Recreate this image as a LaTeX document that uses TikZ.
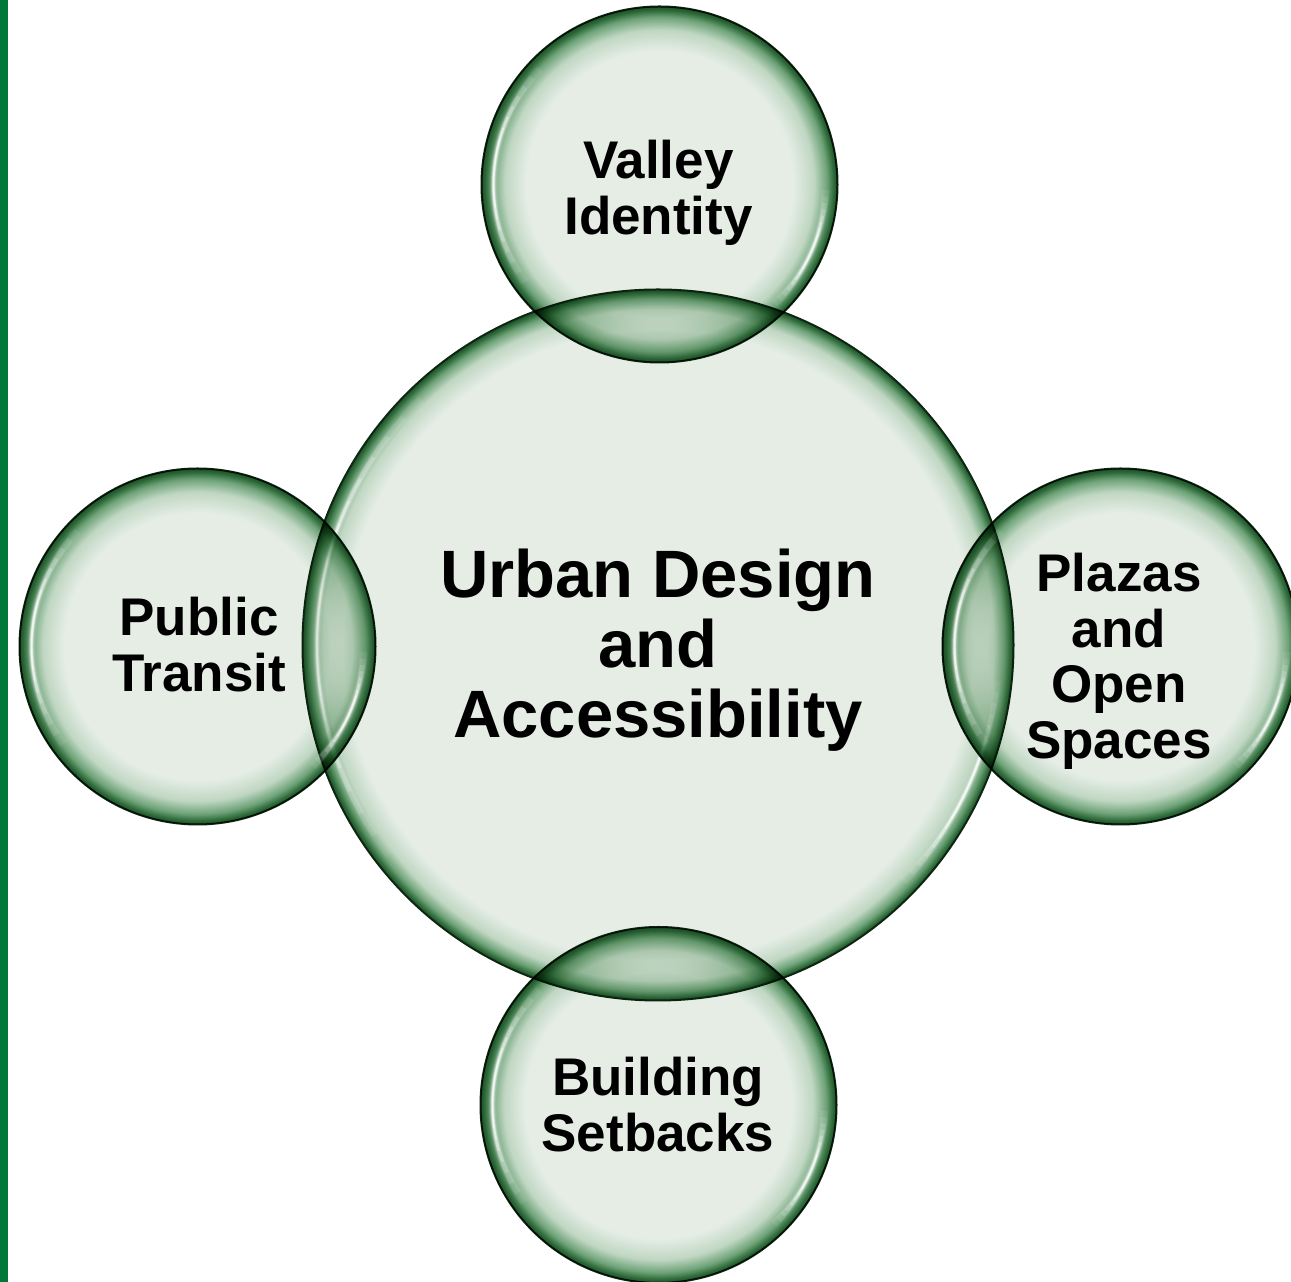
\documentclass[tikz,border=0pt]{standalone}
\usepackage{fontspec}
\setmainfont{Liberation Sans}
\usetikzlibrary{calc}

\definecolor{bublight}{RGB}{229,237,229}
\definecolor{bubsoft}{RGB}{192,215,195}
\definecolor{bubmid}{RGB}{110,163,120}
\definecolor{bubdark}{RGB}{44,104,56}
\definecolor{bubdeep}{RGB}{30,80,40}
\definecolor{bubline}{RGB}{14,38,18}
\definecolor{sidebar}{RGB}{0,120,60}

% glassy bubble fills: light body, dark green inner rim
\pgfdeclareradialshading{satshade}{\pgfpoint{0bp}{0bp}}{%
  color(0bp)=(bublight); color(18.8bp)=(bublight); color(21.7bp)=(bubsoft);
  color(23.5bp)=(bubmid); color(24.5bp)=(bubdark); color(25bp)=(bubdeep);
  color(50bp)=(bubdeep)}
\pgfdeclareradialshading{hubshade}{\pgfpoint{0bp}{0bp}}{%
  color(0bp)=(bublight); color(22.2bp)=(bublight); color(23.6bp)=(bubsoft);
  color(24.35bp)=(bubmid); color(24.8bp)=(bubdark); color(25bp)=(bubdeep);
  color(50bp)=(bubdeep)}

\tikzset{
  bubble/.style={circle, draw=bubline, line width=2pt, shade,
    inner sep=0pt, outer sep=0pt},
  satbubble/.style={bubble, shading=satshade, minimum size=356pt},
  hubbubble/.style={bubble, shading=hubshade, minimum size=711pt},
  hubtext/.style={font=\fontsize{67}{70}\selectfont\bfseries, align=center,
    anchor=north, inner sep=0pt},
  sattext/.style={font=\fontsize{53}{55.5}\selectfont\bfseries, align=center,
    anchor=north, inner sep=0pt},
}

% soft white reflection along an arc: #1 centre, #2 radius, #3 start, #4 end angle
\newcommand\glint[4]{%
  \pgfmathsetmacro\glmid{(#3+#4)/2}%
  \pgfmathsetmacro\glhalf{(#4-#3)/2}%
  \foreach \f/\w/\o in {1.0/8/0.08, 0.9/6.4/0.1, 0.8/5/0.14, 0.7/4/0.18,
                        0.6/3.2/0.25, 0.5/2.5/0.32, 0.4/1.9/0.4, 0.3/1.4/0.5}{%
    \pgfmathsetmacro\gla{\glmid-\f*\glhalf}%
    \pgfmathsetmacro\glb{\glmid+\f*\glhalf}%
    \draw[white, line width=\w pt, draw opacity=\o]
      ($(#1)+(\gla:#2)$) arc[start angle=\gla, end angle=\glb, radius=#2];
  }%
}

\begin{document}
\begin{tikzpicture}[x=1pt, y=1pt]
  \useasboundingbox (0,0) rectangle (1291,1282);
  \fill[sidebar] (0,0) rectangle (8,1282);

  % central bubble
  \node[hubbubble] (hub) at (658,637) {};
  \glint{hub.center}{341}{134}{218}
  \glint{hub.center}{341}{-44}{-6}

  % surrounding bubbles, see-through where they cross the centre
  \begin{scope}[blend mode=multiply]
    \node[satbubble] (valley) at (659.5,1097.5) {};
    \node[satbubble] (transit) at (197.5,635.5) {};
    \node[satbubble] (plazas) at (1120.5,635.5) {};
    \node[satbubble] (setbacks) at (658.5,177) {};
  \end{scope}

  \foreach \b in {valley, transit, plazas, setbacks}{
    \glint{\b.center}{166}{136}{216}
    \glint{\b.center}{166}{-46}{-2}
  }

  % labels
  \node[hubtext] (hubtxt) at (658,733) {Urban Design\\and\\Accessibility};
  \node[sattext] (valleytxt) at (658.5,1142) {Valley\\Identity};
  \node[sattext] (transittxt) at (199,685) {Public\\Transit};
  \node[sattext] (plazastxt) at (1119,729) {Plazas\\and\\Open\\Spaces};
  \node[sattext] (setbackstxt) at (658,225) {Building\\Setbacks};
\end{tikzpicture}
\end{document}
